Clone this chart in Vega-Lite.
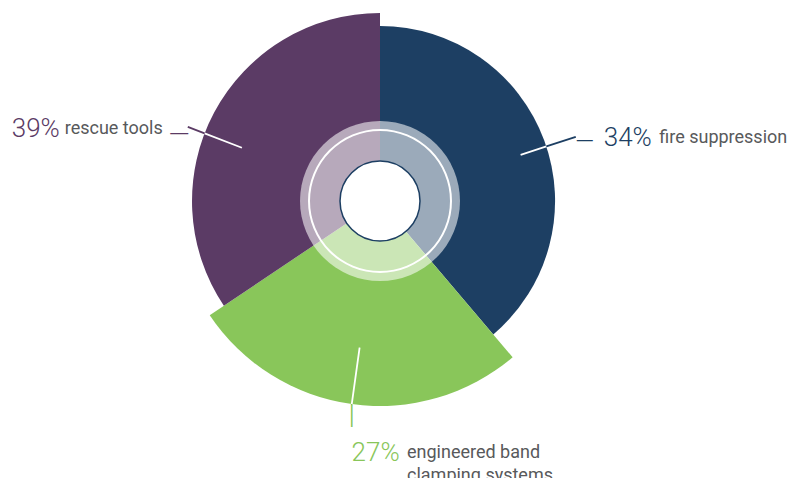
{
  "$schema": "https://vega.github.io/schema/vega-lite/v6.json",
  "width": 760,
  "height": 402,
  "autosize": "none",
  "padding": {"left": 0, "top": 0, "right": 28, "bottom": 76},
  "background": "white",
  "view": {"stroke": null},
  "data": {
    "values": [
      {"category": "fire suppression", "caption": "fire suppression", "percent": 0.34, "sweep": 38.8, "reach": 85.4, "rank": 1},
      {"category": "engineered band clamping systems", "caption": "engineered band\nclamping systems", "percent": 0.27, "sweep": 26.8, "reach": 100, "rank": 2},
      {"category": "rescue tools", "caption": "rescue tools", "percent": 0.39, "sweep": 34.4, "reach": 91.7, "rank": 3}
    ]
  },
  "transform": [
    {"stack": "sweep", "groupby": [], "sort": [{"field": "rank", "order": "ascending"}], "as": ["t0", "t1"]}
  ],
  "layer": [
    {
      "mark": {"type": "arc"},
      "encoding": {
        "theta": {"field": "t0", "type": "quantitative", "scale": {"domain": [0, 100]}},
        "theta2": {"field": "t1"},
        "radius": {"field": "reach", "type": "quantitative", "scale": {"type": "linear", "zero": true, "domain": [0, 100], "range": [0, 205]}},
        "color": {"field": "category", "type": "nominal", "legend": null,
          "scale": {"domain": ["fire suppression", "engineered band clamping systems", "rescue tools"], "range": ["#1d3f63", "#89c65a", "#5b3b65"]}}
      }
    },
    {
      "data": {"values": [{"part": "hub"}]},
      "mark": {"type": "arc", "radius": 80, "fill": "white", "fillOpacity": 0.56},
      "encoding": {}
    },
    {
      "data": {"values": [{"part": "ring"}]},
      "mark": {"type": "arc", "radius": 72, "radius2": 70, "fill": "white"},
      "encoding": {}
    },
    {
      "data": {"values": [{"part": "core"}]},
      "mark": {"type": "arc", "radius": 40, "fill": "white", "stroke": "#1d3f63", "strokeWidth": 1.5},
      "encoding": {}
    },
    {
      "mark": {"type": "arc", "padAngle": 3.1416, "radius2": 148, "fillOpacity": 0, "stroke": "white", "strokeWidth": 1.8,
        "thetaOffset": {"expr": "datum.category === 'rescue tools' ? -0.122 : datum.category === 'fire suppression' ? 0.035 : 0"},
        "theta2Offset": {"expr": "datum.category === 'rescue tools' ? -0.122 : datum.category === 'fire suppression' ? 0.035 : 0"}},
      "encoding": {
        "theta": {"field": "t0", "type": "quantitative"},
        "theta2": {"field": "t1"},
        "radius": {"field": "reach", "type": "quantitative"}
      }
    },
    {
      "mark": {"type": "arc", "padAngle": 3.1416, "radius2": 206, "filled": false, "strokeWidth": 1.8,
        "thetaOffset": {"expr": "datum.category === 'rescue tools' ? -0.122 : datum.category === 'fire suppression' ? 0.035 : 0"},
        "theta2Offset": {"expr": "datum.category === 'rescue tools' ? -0.122 : datum.category === 'fire suppression' ? 0.035 : 0"}},
      "encoding": {
        "theta": {"field": "t0", "type": "quantitative"},
        "theta2": {"field": "t1"},
        "radius": {"field": "reach", "type": "quantitative"},
        "color": {"field": "category", "type": "nominal"}
      }
    },
    {
      "mark": {"type": "text", "radius": 206, "font": "Liberation Sans",
        "thetaOffset": {"expr": "datum.category === 'rescue tools' ? -0.122 : datum.category === 'fire suppression' ? 0.035 : 0"},
        "fontSize": {"expr": "datum.category === 'rescue tools' ? 18 : datum.category === 'fire suppression' ? 16 : 22"},
        "align": {"expr": "datum.category === 'rescue tools' ? 'right' : 'left'"},
        "angle": {"expr": "datum.category === 'engineered band clamping systems' ? 90 : 0"},
        "dx": {"expr": "datum.category === 'rescue tools' ? 0.5 : datum.category === 'fire suppression' ? 1 : 0"},
        "dy": {"expr": "datum.category === 'rescue tools' ? 6.3 : datum.category === 'fire suppression' ? 3.5 : -1.7"}},
      "encoding": {
        "theta": {"field": "sweep", "type": "quantitative", "stack": true},
        "order": {"field": "rank", "type": "quantitative"},
        "color": {"field": "category", "type": "nominal"},
        "text": {"value": "—"}
      }
    },
    {
      "mark": {"type": "text", "radius": 206, "font": "Roboto", "fontWeight": 300, "fontSize": 26,
        "thetaOffset": {"expr": "datum.category === 'rescue tools' ? -0.122 : datum.category === 'fire suppression' ? 0.035 : 0"},
        "align": {"expr": "datum.category === 'rescue tools' ? 'right' : 'left'"},
        "dx": {"expr": "datum.category === 'rescue tools' ? -128 : datum.category === 'fire suppression' ? 28 : 0"},
        "dy": {"expr": "datum.category === 'rescue tools' ? 2.4 : datum.category === 'fire suppression' ? 1.2 : 48"}},
      "encoding": {
        "theta": {"field": "sweep", "type": "quantitative", "stack": true},
        "order": {"field": "rank", "type": "quantitative"},
        "color": {"field": "category", "type": "nominal"},
        "text": {"field": "percent", "type": "quantitative", "format": ".0%"}
      }
    },
    {
      "mark": {"type": "text", "radius": 206, "font": "Roboto", "fontWeight": 400, "fontSize": 18, "color": "#58595b", "lineBreak": "\n", "lineHeight": 23,
        "thetaOffset": {"expr": "datum.category === 'rescue tools' ? -0.122 : datum.category === 'fire suppression' ? 0.035 : 0"},
        "align": {"expr": "datum.category === 'rescue tools' ? 'right' : 'left'"},
        "dx": {"expr": "datum.category === 'rescue tools' ? -25 : datum.category === 'fire suppression' ? 83.5 : 55.4"},
        "dy": {"expr": "datum.category === 'rescue tools' ? 2.4 : datum.category === 'fire suppression' ? 1.2 : 48"}},
      "encoding": {
        "theta": {"field": "sweep", "type": "quantitative", "stack": true},
        "order": {"field": "rank", "type": "quantitative"},
        "detail": {"field": "category"},
        "text": {"field": "caption"}
      }
    }
  ]
}
